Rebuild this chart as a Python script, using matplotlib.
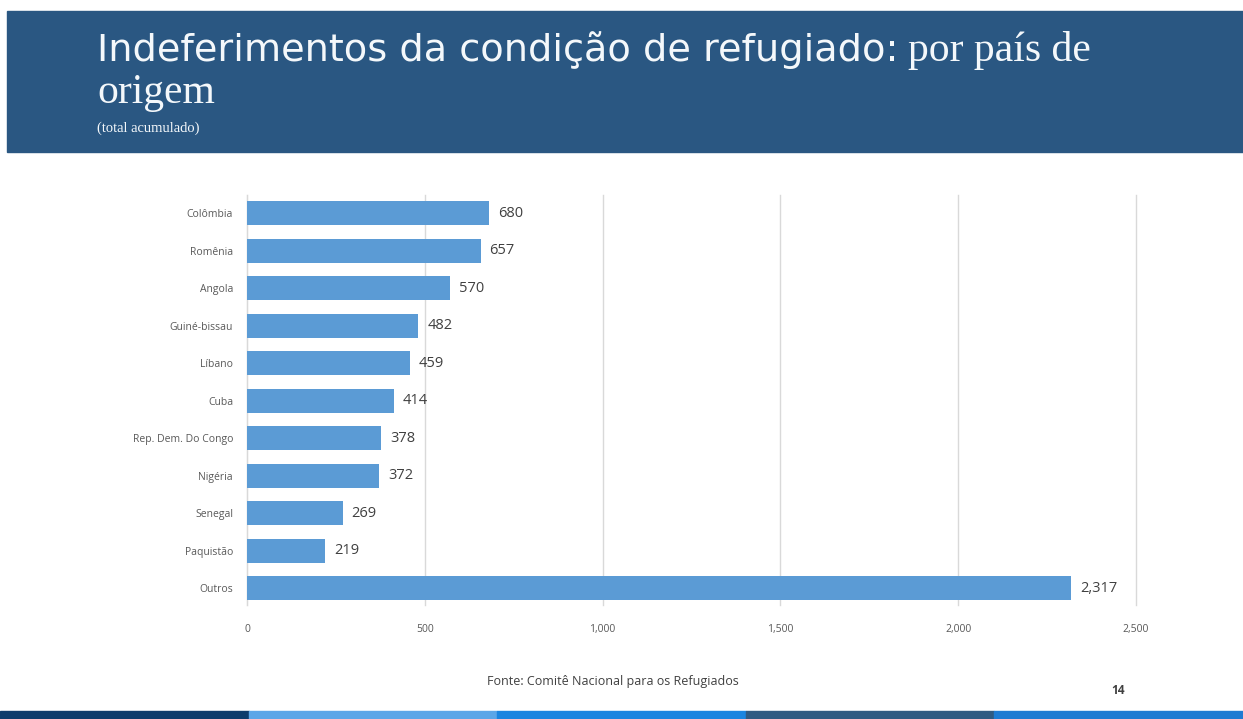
import matplotlib
matplotlib.use("Agg")
import matplotlib.pyplot as plt
from matplotlib.patches import Rectangle
from matplotlib.ticker import FuncFormatter

paises = ["Colômbia", "Romênia", "Angola", "Guiné-bissau", "Líbano", "Cuba",
          "Rep. Dem. Do Congo", "Nigéria", "Senegal", "Paquistão", "Outros"]
indeferimentos = [680, 657, 570, 482, 459, 414, 378, 372, 269, 219, 2317]
ticks_x = [0, 500, 1000, 1500, 2000, 2500]

W, H = 1243, 719
fig = plt.figure(figsize=(W / 100, H / 100), dpi=100)
fig.patch.set_facecolor("white")

# faixa azul do cabeçalho
fig.patches.append(Rectangle((7 / W, 1 - 152 / H), 1 - 7 / W, 141 / H,
                             transform=fig.transFigure, color="#2a5782", zorder=0))

# faixa colorida do rodapé
cores_rodape = ["#0d3c6c", "#5ba6e8", "#1b85e0", "#305b82", "#1e7bd2"]
larg = W / 5
for i, c in enumerate(cores_rodape):
    fig.patches.append(Rectangle((i * larg / W, 0), larg / W, 8 / H,
                                 transform=fig.transFigure, color=c, zorder=0))

t1 = fig.text(97 / W, 1 - 61 / H, "Indeferimentos da condição de refugiado:",
              color="#f4f8fb", fontsize=27.5, family="DejaVu Sans")
fig.canvas.draw()
bb = t1.get_window_extent()
fig.text((bb.x1 + 9) / W, 1 - 61 / H, "por país de", color="#f4f8fb",
         fontsize=30, family="Liberation Serif")
fig.text(97 / W, 1 - 103 / H, "origem", color="#f4f8fb", fontsize=30,
         family="Liberation Serif")
fig.text(97 / W, 1 - 132 / H, "(total acumulado)", color="#f4f8fb", fontsize=10.5,
         family="Liberation Serif")

ax = fig.add_axes([247 / W, 1 - 605 / H, (1136 - 247) / W, 410 / H])
y = list(range(len(paises)))
ax.barh(y, indeferimentos, height=0.64, color="#5b9bd5", zorder=3)
for yi, v in zip(y, indeferimentos):
    ax.text(v + 25, yi, f"{v:,}", va="center", ha="left", fontsize=10.5,
            color="#404040", family="Open Sans")

ax.set_yticks(y)
ax.set_yticklabels(paises, fontsize=7.5, color="#595959", family="Open Sans")
ax.set_ylim(10.45, -0.48)
ax.set_xlim(0, 2500)
ax.set_xticks(ticks_x)
ax.xaxis.set_major_formatter(FuncFormatter(lambda v, p: f"{int(v):,}"))
for lab in ax.get_xticklabels():
    lab.set_fontsize(7.5)
    lab.set_color("#595959")
    lab.set_family("Open Sans")
ax.tick_params(axis="both", length=0)
ax.tick_params(axis="x", pad=14)
ax.tick_params(axis="y", pad=10)
ax.grid(axis="x", color="#d9d9d9", linewidth=1, zorder=0)
for gl in ax.get_xgridlines():
    gl.set_clip_on(False)
for s in ["top", "right", "bottom"]:
    ax.spines[s].set_visible(False)
ax.spines["left"].set_color("#d9d9d9")

fig.text(613 / W, 1 - 682 / H, "Fonte: Comitê Nacional para os Refugiados",
         ha="center", va="center", fontsize=9, color="#404040", family="Open Sans")
fig.text(1118 / W, 1 - 691 / H, "14", ha="center", va="center", fontsize=8.5,
         color="#404040", family="Open Sans", weight="bold")

fig.savefig("out.png", dpi=100)
